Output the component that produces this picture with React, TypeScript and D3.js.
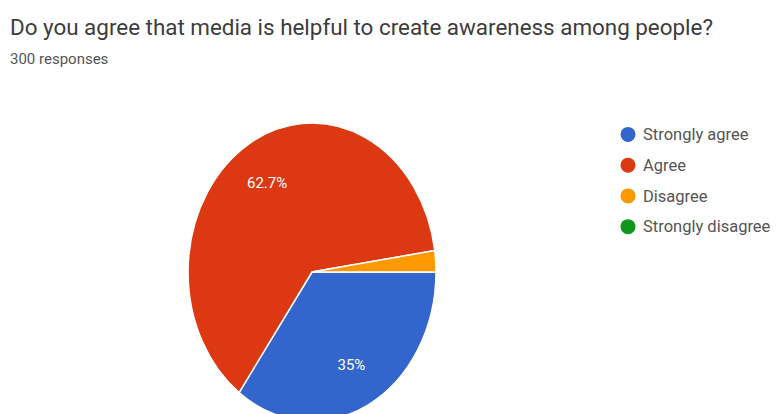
import React from "react";
import * as d3 from "d3";

const title = "Do you agree that media is helpful to create awareness among people?";
const subtitle = "300 responses";
const categories = ["Strongly agree", "Agree", "Disagree", "Strongly disagree"];
const values = [35, 62.7, 2.3, 0];
const colors = ["#3366CC", "#DC3912", "#FF9900", "#109618"];

export default function App() {
  const W = 776, H = 414;
  const cx = 312, cy = 272, rx = 124, ry = 149;
  const pie = d3.pie<number>().sort(null).startAngle(Math.PI / 2).endAngle(Math.PI / 2 + 2 * Math.PI);
  const arcs = pie(values);
  const arc = d3.arc<d3.PieArcDatum<number>>().innerRadius(0).outerRadius(1);
  const labelArc = d3.arc<d3.PieArcDatum<number>>().innerRadius(0.4).outerRadius(1);
  const legendY = d3.scaleBand<string>().domain(categories).range([119, 242]);
  return (
    <svg width={W} height={H} style={{ position: "absolute", left: 0, top: 0, fontFamily: "Roboto, Arial, sans-serif" }}>
      <rect width={W} height={H} fill="#fff" />
      <text x={10} y={35} fontSize={21.5} fill="#3c3c3c" textLength={703} lengthAdjust="spacingAndGlyphs">{title}</text>
      <text x={10} y={64} fontSize={15} fill="#555">{subtitle}</text>
      <g transform={`translate(${cx},${cy}) scale(${rx},${ry})`}>
        {arcs.map((a, i) =>
          a.value > 0 ? (
            <path key={i} d={arc(a) || ""} fill={colors[i]} stroke="#fff" strokeWidth={1.5} vectorEffect="non-scaling-stroke" />
          ) : null
        )}
      </g>
      {arcs.map((a, i) => {
        if (a.value < 5) return null;
        const [x, y] = labelArc.centroid(a);
        return (
          <text key={i} x={cx + x * rx} y={cy + y * ry} dy="0.35em" textAnchor="middle" fontSize={15} fill="#fff">
            {`${a.value}%`}
          </text>
        );
      })}
      {categories.map((c, i) => {
        const y = (legendY(c) || 0) + legendY.bandwidth() / 2;
        return (
          <g key={c}>
            <circle cx={628} cy={y} r={7.5} fill={colors[i]} />
            <text x={643} y={y} dy="0.35em" fontSize={16.5} fill="#555">{c}</text>
          </g>
        );
      })}
    </svg>
  );
}
